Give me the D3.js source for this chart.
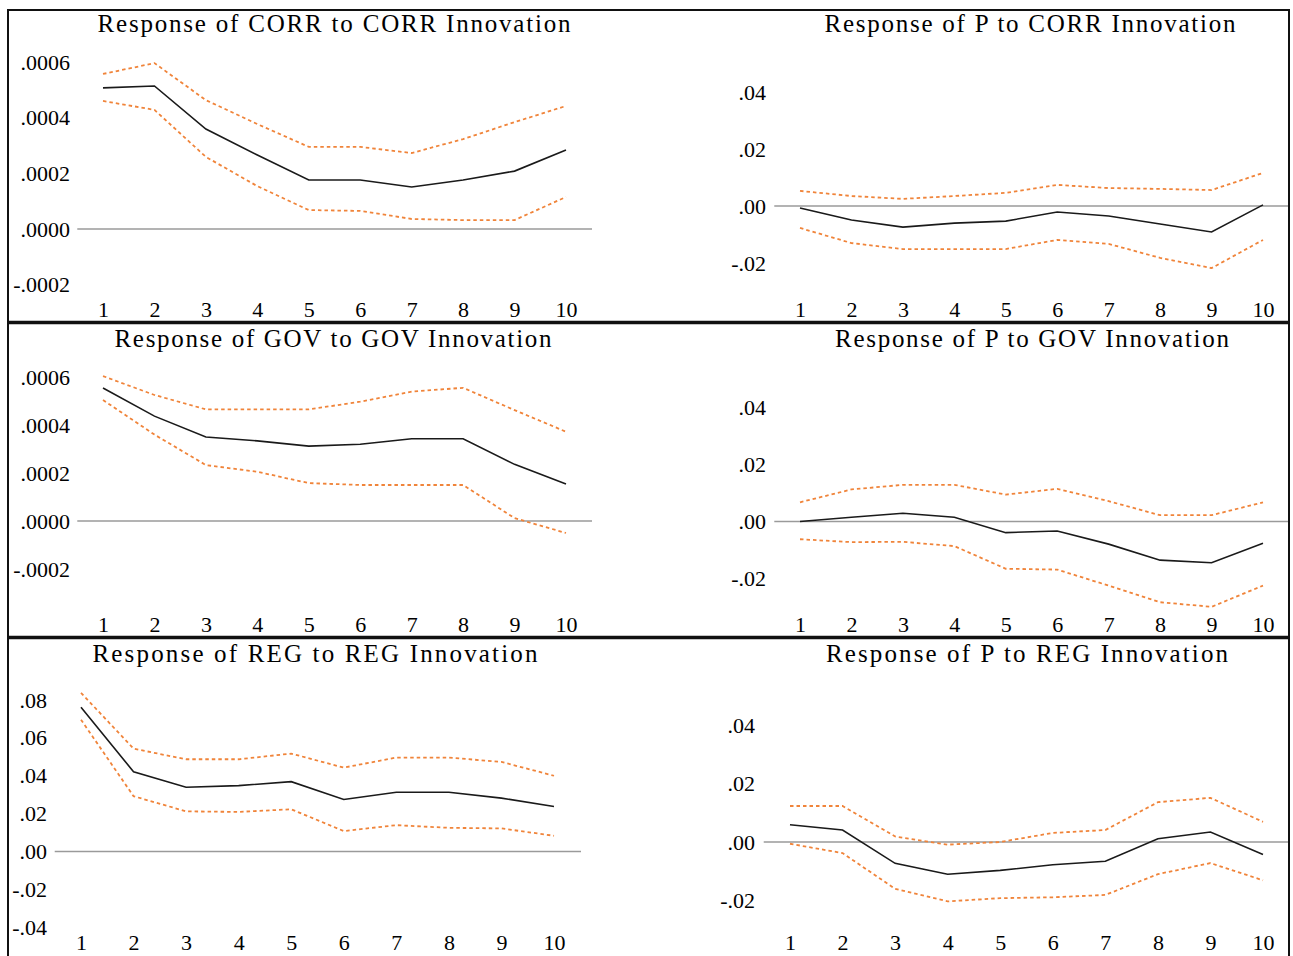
<!DOCTYPE html>
<html>
<head>
<meta charset="utf-8">
<script src="https://cdn.jsdelivr.net/npm/d3@7"></script>
<style>
  body { margin: 0; background: #fff; }
  svg { display: block; }
</style>
</head>
<body>
<svg id="chart" width="1293" height="956"></svg>
<script>

// periods after the shock
var periods = [1, 2, 3, 4, 5, 6, 7, 8, 9, 10];

var titles = [
  'Response of CORR to CORR Innovation',
  'Response of P to CORR Innovation',
  'Response of GOV to GOV Innovation',
  'Response of P to GOV Innovation',
  'Response of REG to REG Innovation',
  'Response of P to REG Innovation'
];

// CORR -> CORR
var corrCorr   = [0.000507, 0.000514, 0.000359, 0.000266, 0.000176, 0.000176, 0.000151, 0.000176, 0.000208, 0.000284];
var corrCorrHi = [0.000557, 0.000596, 0.000463, 0.000377, 0.000295, 0.000295, 0.000273, 0.000323, 0.000384, 0.000442];
var corrCorrLo = [0.000460, 0.000428, 0.000259, 0.000154, 0.000068, 0.000065, 0.000036, 0.000032, 0.000032, 0.000115];

// CORR -> P
var corrP   = [-0.0007, -0.0049, -0.0074, -0.0060, -0.0053, -0.0021, -0.0035, -0.0063, -0.0091, 0.0004];
var corrPHi = [0.0053, 0.0035, 0.0025, 0.0035, 0.0046, 0.0074, 0.0063, 0.0060, 0.0056, 0.0116];
var corrPLo = [-0.0077, -0.0130, -0.0151, -0.0151, -0.0151, -0.0119, -0.0133, -0.0182, -0.0218, -0.0119];

// GOV -> GOV
var govGov   = [0.000554, 0.000437, 0.000350, 0.000334, 0.000312, 0.000320, 0.000343, 0.000343, 0.000236, 0.000154];
var govGovHi = [0.000604, 0.000525, 0.000465, 0.000465, 0.000465, 0.000497, 0.000539, 0.000555, 0.000462, 0.000372];
var govGovLo = [0.000504, 0.000360, 0.000233, 0.000205, 0.000158, 0.000150, 0.000150, 0.000150, 0.000012, -0.000050];

// GOV -> P
var govP   = [0.0000, 0.0015, 0.0029, 0.0015, -0.0039, -0.0033, -0.0079, -0.0135, -0.0144, -0.0076];
var govPHi = [0.0067, 0.0112, 0.0128, 0.0128, 0.0094, 0.0114, 0.0071, 0.0022, 0.0022, 0.0067];
var govPLo = [-0.0062, -0.0072, -0.0071, -0.0086, -0.0165, -0.0168, -0.0224, -0.0282, -0.0298, -0.0224];

// REG -> REG
var regReg   = [0.0762, 0.0421, 0.0339, 0.0348, 0.0369, 0.0275, 0.0313, 0.0313, 0.0282, 0.0238];
var regRegHi = [0.0838, 0.0543, 0.0487, 0.0487, 0.0517, 0.0443, 0.0496, 0.0496, 0.0473, 0.0400];
var regRegLo = [0.0696, 0.0292, 0.0212, 0.0209, 0.0223, 0.0108, 0.0139, 0.0125, 0.0122, 0.0083];

// REG -> P
var regP   = [0.0059, 0.0041, -0.0073, -0.0110, -0.0097, -0.0078, -0.0066, 0.0011, 0.0034, -0.0043];
var regPHi = [0.0123, 0.0123, 0.0019, -0.0009, 0.0000, 0.0031, 0.0041, 0.0136, 0.0151, 0.0069];
var regPLo = [-0.0006, -0.0038, -0.0160, -0.0203, -0.0192, -0.0189, -0.0181, -0.0110, -0.0072, -0.0131];

var yTicksSmall = [-0.0002, 0, 0.0002, 0.0004, 0.0006];
var yTicksP = [-0.02, 0, 0.02, 0.04];
var yTicksReg = [-0.04, -0.02, 0, 0.02, 0.04, 0.06, 0.08];

var panels = [
  { title: titles[0], mid: corrCorr, hi: corrCorrHi, lo: corrCorrLo, ticks: yTicksSmall, dec: 4 },
  { title: titles[1], mid: corrP, hi: corrPHi, lo: corrPLo, ticks: yTicksP, dec: 2 },
  { title: titles[2], mid: govGov, hi: govGovHi, lo: govGovLo, ticks: yTicksSmall, dec: 4 },
  { title: titles[3], mid: govP, hi: govPHi, lo: govPLo, ticks: yTicksP, dec: 2 },
  { title: titles[4], mid: regReg, hi: regRegHi, lo: regRegLo, ticks: yTicksReg, dec: 2 },
  { title: titles[5], mid: regP, hi: regPHi, lo: regPLo, ticks: yTicksP, dec: 2 }
];

// pixel layout of each panel (x of period 1 & 10, y of zero & top tick, label edge, title)
var layout = [
  { x1: 103, x10: 566, y0: 229, yTop: 62, labelX: 70, xBase: 317, tx: 334, ty: 32, tw: 473, zEnd: 592 },
  { x1: 800, x10: 1263, y0: 206, yTop: 92, labelX: 766, xBase: 317, tx: 1030, ty: 32, tw: 411, zEnd: 1289 },
  { x1: 103, x10: 566, y0: 521, yTop: 377, labelX: 70, xBase: 632, tx: 333, ty: 347, tw: 437, zEnd: 592 },
  { x1: 800, x10: 1263, y0: 521.5, yTop: 407, labelX: 766, xBase: 632, tx: 1032, ty: 347, tw: 394, zEnd: 1289 },
  { x1: 81, x10: 554, y0: 851.5, yTop: 700, labelX: 47, xBase: 950, tx: 315, ty: 662, tw: 445, zEnd: 581 },
  { x1: 790, x10: 1263, y0: 842, yTop: 725, labelX: 755, xBase: 950, tx: 1027, ty: 662, tw: 402, zEnd: 1289 }
];

var svg = d3.select('#chart');
var font = '"Liberation Serif"';

function fmt(dec) {
  var f = d3.format('.' + dec + 'f');
  return function(v) {
    return f(v).replace('\u2212', '-').replace('0.', '.');
  };
}

panels.forEach(function(p, i) {
  var L = layout[i];
  var g = svg.append('g');

  var x = d3.scaleLinear().domain([1, 10]).range([L.x1, L.x10]);
  var y = d3.scaleLinear().domain([0, p.ticks[p.ticks.length - 1]]).range([L.y0, L.yTop]);

  // title
  g.append('text')
    .attr('x', L.tx)
    .attr('y', L.ty)
    .attr('text-anchor', 'middle')
    .attr('textLength', L.tw)
    .attr('lengthAdjust', 'spacing')
    .style('font-family', font)
    .style('font-size', '25px')
    .style('fill', '#000')
    .text(p.title);

  // zero line
  g.append('line')
    .attr('x1', x(0.5)).attr('x2', L.zEnd)
    .attr('y1', y(0)).attr('y2', y(0))
    .style('stroke', '#9a9a9a')
    .style('stroke-width', 1.6);

  // y axis labels
  var yAxis = g.append('g')
    .attr('transform', 'translate(' + L.labelX + ',0)')
    .call(d3.axisLeft(y).tickValues(p.ticks).tickSize(0).tickPadding(0).tickFormat(fmt(p.dec)));
  yAxis.attr('font-family', null);
  yAxis.select('.domain').remove();
  yAxis.selectAll('text')
    .style('font-family', font)
    .style('font-size', '22px')
    .style('fill', '#000');

  // x axis labels
  var xAxis = g.append('g')
    .attr('transform', 'translate(0,' + L.xBase + ')')
    .call(d3.axisBottom(x).tickValues(periods).tickSize(0).tickFormat(d3.format('d')));
  xAxis.attr('font-family', null);
  xAxis.select('.domain').remove();
  xAxis.selectAll('text')
    .attr('y', 0)
    .attr('dy', null)
    .style('font-family', font)
    .style('font-size', '22px')
    .style('fill', '#000');

  var line = d3.line()
    .x(function(d, j) { return x(periods[j]); })
    .y(function(d) { return y(d); });

  [p.hi, p.lo].forEach(function(band) {
    g.append('path')
      .datum(band)
      .attr('d', line)
      .style('fill', 'none')
      .style('stroke', '#f0843a')
      .style('stroke-width', 1.8)
      .style('stroke-dasharray', '3.5,3');
  });

  g.append('path')
    .datum(p.mid)
    .attr('d', line)
    .style('fill', 'none')
    .style('stroke', '#1a1a1a')
    .style('stroke-width', 1.6);
});

// frame and row dividers
svg.append('rect')
  .attr('x', 8).attr('y', 10)
  .attr('width', 1281).attr('height', 960)
  .style('fill', 'none')
  .style('stroke', '#111')
  .style('stroke-width', 2);

[322.5, 637.5].forEach(function(yy) {
  svg.append('line')
    .attr('x1', 8).attr('x2', 1290)
    .attr('y1', yy).attr('y2', yy)
    .style('stroke', '#111')
    .style('stroke-width', 3.5);
});

</script>
</body>
</html>
